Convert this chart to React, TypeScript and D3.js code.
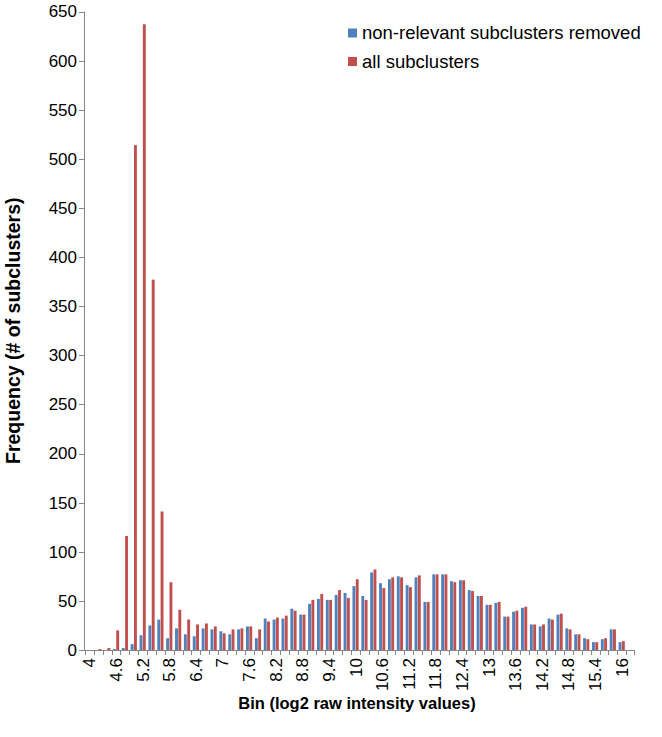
import React, { useEffect, useRef } from "react";
import * as d3 from "d3";

const bins = [
  "4", "4.2", "4.4", "4.6", "4.8", "5", "5.2", "5.4", "5.6", "5.8",
  "6", "6.2", "6.4", "6.6", "6.8", "7", "7.2", "7.4", "7.6", "7.8",
  "8", "8.2", "8.4", "8.6", "8.8", "9", "9.2", "9.4", "9.6", "9.8",
  "10", "10.2", "10.4", "10.6", "10.8", "11", "11.2", "11.4", "11.6", "11.8",
  "12", "12.2", "12.4", "12.6", "12.8", "13", "13.2", "13.4", "13.6", "13.8",
  "14", "14.2", "14.4", "14.6", "14.8", "15", "15.2", "15.4", "15.6", "15.8",
  "16", "16.2",
];

const removedValues = [
  0, 0, 0, 1, 2, 6, 15, 25, 31, 12,
  22, 16, 14, 22, 21, 19, 16, 21, 24, 12,
  32, 31, 32, 42, 36, 47, 52, 51, 56, 58,
  65, 55, 79, 68, 72, 75, 66, 74, 49, 77,
  77, 70, 71, 61, 55, 46, 48, 34, 39, 43,
  26, 24, 32, 36, 22, 16, 12, 8, 11, 21,
  8, 0,
];

const allValues = [
  0, 1, 2, 20, 116, 514, 637, 377, 141, 69,
  41, 31, 26, 27, 24, 17, 21, 22, 24, 21,
  29, 33, 35, 40, 36, 51, 57, 51, 61, 53,
  72, 51, 82, 63, 74, 74, 64, 76, 49, 77,
  77, 69, 71, 60, 55, 46, 49, 34, 40, 44,
  26, 26, 31, 37, 21, 16, 11, 8, 12, 21,
  9, 0,
];

const yTicks = [0, 50, 100, 150, 200, 250, 300, 350, 400, 450, 500, 550, 600, 650];
const xLabels = ["4", "4.6", "5.2", "5.8", "6.4", "7", "7.6", "8.2", "8.8", "9.4", "10", "10.6", "11.2", "11.8", "12.4", "13", "13.6", "14.2", "14.8", "15.4", "16"];

const seriesNames = ["non-relevant subclusters removed", "all subclusters"];
const seriesColors = ["#4F81BD", "#C0504D"];

export default function App() {
  const ref = useRef<SVGSVGElement>(null);

  useEffect(() => {
    const svg = d3.select(ref.current);
    svg.selectAll("*").remove();

    const left = 84, right = 634, top = 11.5, bottom = 650;
    const font = "Liberation Sans, Arial, sans-serif";
    const axisColor = "#868686";

    const x = d3.scaleBand<string>().domain(bins).range([left + 1, right + 1]).paddingInner(0).paddingOuter(0);
    const y = d3.scaleLinear().domain([0, 650]).range([bottom, top]);
    const bw = x.bandwidth();
    const barW = 2.9;

    const series = [removedValues, allValues];
    series.forEach((vals, si) => {
      svg.append("g")
        .selectAll("rect")
        .data(vals)
        .join("rect")
        .attr("x", (_d, i) => (x(bins[i]) as number) + bw / 2 - barW - 0.2 + si * (barW + 0.4))
        .attr("width", barW)
        .attr("y", (d) => y(d))
        .attr("height", (d) => bottom - y(d))
        .attr("fill", seriesColors[si]);
    });

    // axes
    const ga = svg.append("g").attr("stroke", axisColor).attr("stroke-width", 1);
    ga.append("line").attr("x1", left + 0.5).attr("x2", left + 0.5).attr("y1", top).attr("y2", bottom);
    yTicks.forEach((t) => {
      ga.append("line").attr("x1", left - 5).attr("x2", left).attr("y1", Math.round(y(t)) + 0.5).attr("y2", Math.round(y(t)) + 0.5);
    });
    ga.append("line").attr("x1", left).attr("x2", right + 1).attr("y1", bottom + 0.5).attr("y2", bottom + 0.5);
    bins.forEach((b) => {
      const xx = Math.round(x(b) as number) + 0.5;
      ga.append("line").attr("x1", xx).attr("x2", xx).attr("y1", bottom).attr("y2", bottom + 5);
    });
    ga.append("line").attr("x1", right + 0.5).attr("x2", right + 0.5).attr("y1", bottom).attr("y2", bottom + 5);

    svg.append("g")
      .selectAll("text")
      .data(yTicks)
      .join("text")
      .attr("x", 77)
      .attr("y", (d) => y(d))
      .attr("dy", "0.35em")
      .attr("text-anchor", "end")
      .attr("font-family", font)
      .attr("font-size", 17)
      .attr("fill", "#000")
      .text((d) => String(d));

    svg.append("g")
      .selectAll("text")
      .data(xLabels)
      .join("text")
      .attr("transform", (d) => `translate(${(x(d) as number) + bw / 2},${bottom + 8}) rotate(-90)`)
      .attr("dy", "0.35em")
      .attr("text-anchor", "end")
      .attr("font-family", font)
      .attr("font-size", 17)
      .attr("fill", "#000")
      .text((d) => d);

    svg.append("text")
      .attr("x", 357)
      .attr("y", 709)
      .attr("text-anchor", "middle")
      .attr("font-family", font)
      .attr("font-weight", "bold")
      .attr("font-size", 16.5)
      .text("Bin (log2 raw intensity values)");

    svg.append("text")
      .attr("transform", `translate(13,${(top + bottom) / 2}) rotate(-90)`)
      .attr("dy", "0.35em")
      .attr("text-anchor", "middle")
      .attr("font-family", font)
      .attr("font-weight", "bold")
      .attr("font-size", 19.5)
      .text("Frequency (# of subclusters)");

    const lg = svg.append("g");
    seriesNames.forEach((name, i) => {
      const ly = 33 + i * 28.5;
      lg.append("rect").attr("x", 348).attr("y", ly - 4.5).attr("width", 9).attr("height", 9).attr("fill", seriesColors[i]);
      lg.append("text")
        .attr("x", 362)
        .attr("y", ly)
        .attr("dy", "0.35em")
        .attr("font-family", font)
        .attr("font-size", 18.5)
        .text(name);
    });
  }, []);

  return (
    <svg ref={ref} width={662} height={737} style={{ position: "absolute", left: 0, top: 0, background: "#fff" }} />
  );
}
